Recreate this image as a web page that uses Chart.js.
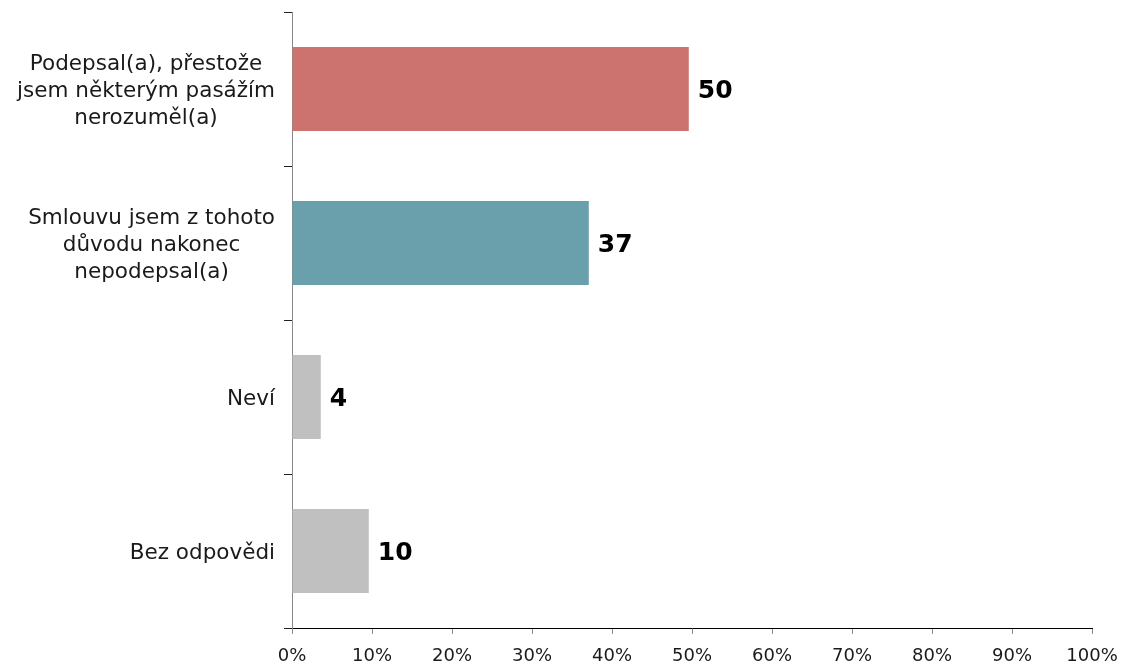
<!DOCTYPE html>
<html>
<head>
<meta charset="utf-8">
<script src="https://cdn.jsdelivr.net/npm/chart.js@4/dist/chart.umd.min.js"></script>
<style>
  html, body { margin: 0; padding: 0; background: #fff; }
  #wrap { width: 1123px; height: 665px; }
</style>
</head>
<body>
<div id="wrap"><canvas id="chart"></canvas></div>
<script>
// kategorie (víceřádkové popisky)
const kategorie = [
    ['Podepsal(a), přestože', 'jsem některým pasážím', 'nerozuměl(a)'],
    ['Smlouvu jsem z tohoto', 'důvodu nakonec', 'nepodepsal(a)'],
    ['Neví'],
    ['Bez odpovědi']
];
const hodnoty = [49.6, 37.1, 3.6, 9.6];
const popiskyHodnot = ['50', '37', '4', '10'];
const barvy = ['#CC736F', '#69A0AC', '#C0C0C0', '#C0C0C0'];
const osaX = [0, 10, 20, 30, 40, 50, 60, 70, 80, 90, 100];

const fontName = '"DejaVu Sans", Verdana, sans-serif';

// popisky kategorii - blok zarovnany vpravo, radky na stred
const popiskyKategorii = {
    id: 'popiskyKategorii',
    afterDraw(chart) {
        const ctx = chart.ctx;
        const y = chart.scales.y;
        const right = y.right - 17;
        ctx.save();
        ctx.font = '21.5px ' + fontName;
        ctx.fillStyle = '#1a1a1a';
        ctx.textAlign = 'center';
        ctx.textBaseline = 'middle';
        kategorie.forEach((lines, i) => {
            const w = Math.max(...lines.map(l => ctx.measureText(l).width));
            const cx = right - w / 2;
            const cy = y.getPixelForValue(i) + 2;
            const lh = 27;
            lines.forEach((l, j) => {
                ctx.fillText(l, cx, cy + (j - (lines.length - 1) / 2) * lh);
            });
        });
        ctx.restore();
    }
};

// hodnoty za sloupci
const popiskyDat = {
    id: 'popiskyDat',
    afterDatasetsDraw(chart) {
        const ctx = chart.ctx;
        const meta = chart.getDatasetMeta(0);
        ctx.save();
        ctx.font = 'bold 25px ' + fontName;
        ctx.fillStyle = '#000';
        ctx.textAlign = 'left';
        ctx.textBaseline = 'middle';
        meta.data.forEach((bar, i) => {
            ctx.fillText(popiskyHodnot[i], bar.x + 9, bar.y + 2);
        });
        ctx.restore();
    }
};

new Chart(document.getElementById('chart'), {
    type: 'bar',
    data: {
        labels: kategorie.map(k => k.join(' ')),
        datasets: [{
            data: hodnoty,
            backgroundColor: barvy,
            borderWidth: 0,
            categoryPercentage: 1,
            barPercentage: 0.545
        }]
    },
    options: {
        indexAxis: 'y',
        responsive: true,
        maintainAspectRatio: false,
        animation: false,
        layout: { padding: { top: 12, right: 31, left: 0, bottom: 0 } },
        plugins: {
            legend: { display: false },
            tooltip: { enabled: false }
        },
        scales: {
            x: {
                min: 0,
                max: 100,
                afterBuildTicks(scale) {
                    scale.ticks = osaX.map(v => ({ value: v }));
                },
                afterFit(scale) {
                    scale.height = 37;
                    scale.paddingLeft = 0;
                    scale.paddingRight = 0;
                },
                border: { color: '#000', width: 1 },
                grid: {
                    drawOnChartArea: false,
                    tickLength: 6,
                    color: '#888'
                },
                ticks: {
                    color: '#1a1a1a',
                    font: { family: fontName, size: 18 },
                    padding: 12,
                    maxRotation: 0,
                    callback: v => v + '%'
                }
            },
            y: {
                afterFit(scale) { scale.width = 292; },
                border: { color: '#888', width: 1 },
                grid: {
                    offset: true,
                    drawOnChartArea: false,
                    tickLength: 8,
                    color: '#222'
                },
                ticks: { display: false }
            }
        }
    },
    plugins: [popiskyKategorii, popiskyDat]
});
</script>
</body>
</html>
